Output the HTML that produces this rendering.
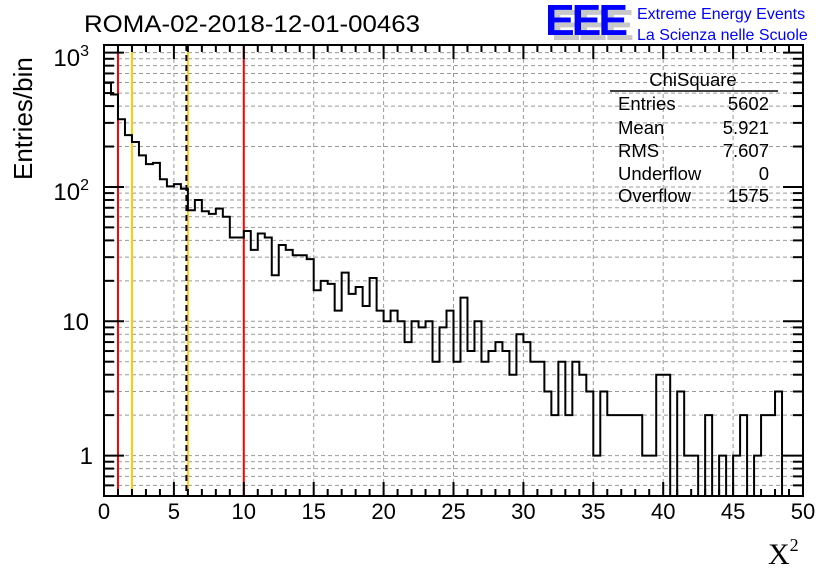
<!DOCTYPE html>
<html><head><meta charset="utf-8"><style>
html,body{margin:0;padding:0;background:#fff;}
svg{display:block;font-family:"Liberation Sans",sans-serif;}
</style></head><body>
<svg id="chart" width="836" height="572" viewBox="0 0 836 572">
<rect width="836" height="572" fill="#fff"/>
<g id="grid"></g>
<g id="vlines"></g>
<path id="hist" fill="none" stroke="#000" stroke-width="2"/>
<rect x="104" y="45" width="699" height="451" fill="none" stroke="#000" stroke-width="2"/>
<g id="ticks"></g>
<g id="xlabels" font-size="22" text-anchor="middle"></g>
<g font-size="24" text-anchor="end">
<text x="89" y="66">10<tspan font-size="16" dy="-10">3</tspan></text>
<text x="89" y="200">10<tspan font-size="16" dy="-10">2</tspan></text>
<text x="89" y="330">10</text>
<text x="93" y="464">1</text>
</g>
<text transform="translate(32,180) rotate(-90)" font-size="26">Entries/bin</text>
<text x="768" y="564" font-family="Liberation Serif,serif" font-size="30">X<tspan font-size="18" dy="-13">2</tspan></text>
<text x="84" y="32" font-size="24" textLength="336" lengthAdjust="spacingAndGlyphs">ROMA-02-2018-12-01-00463</text>
<g>
<text x="551" y="40" font-size="44" font-weight="bold" fill="#c8c8c8" letter-spacing="-3" textLength="80" lengthAdjust="spacingAndGlyphs">EEE</text>
<text x="545" y="35" font-size="44" font-weight="bold" fill="#0000ff" letter-spacing="-3" textLength="80" lengthAdjust="spacingAndGlyphs">EEE</text>
<text x="637" y="19" font-size="16" fill="#0000ff">Extreme Energy Events</text>
<text x="637" y="40" font-size="16" fill="#0000ff">La Scienza nelle Scuole</text>
</g>
<g font-size="18.5">
<text x="693" y="86" text-anchor="middle">ChiSquare</text>
<line x1="610" y1="91" x2="778" y2="91" stroke="#000" stroke-width="1.5"/>
<text x="618" y="110">Entries</text><text x="769" y="110" text-anchor="end">5602</text>
<text x="618" y="134">Mean</text><text x="769" y="134" text-anchor="end">5.921</text>
<text x="618" y="157">RMS</text><text x="769" y="157" text-anchor="end">7.607</text>
<text x="618" y="180">Underflow</text><text x="769" y="180" text-anchor="end">0</text>
<text x="618" y="202">Overflow</text><text x="769" y="202" text-anchor="end">1575</text>
</g>
</svg>
<script>
const binCounts = [595,488,319,243,216,172,148,151,114,101,105,97,67,80,66,63,69,60,42,42,
47,34,45,42,22,37,34,31,31,29,17,20,19,12,23,16,18,13,21,12,
10,12,10,7,10,9,10,5,9,12,5,15,6,10,5,6,7,6,4,8,
7,5,5,3,2,5,2,5,4,3,1,3,2,2,2,2,2,1,1,4,
4,0,3,1,1,0,2,0,1,0,1,2,0,1,2,2,3,0,0,0];
const binWidth = 0.5;
const xTickValues = [0,5,10,15,20,25,30,35,40,45,50];
const cutLines = [[1,'#ff0000',false],[2,'#ffcc00',false],[6,'#ffcc00',true],[10,'#ff0000',false]];
const X0=104,X1=803,Y0=45,Y1=496,XMIN=0,XMAX=50,YMIN=0.5,YMAX=1140;
function xs(v){return X0+(v-XMIN)/(XMAX-XMIN)*(X1-X0);}
function ys(v){if(v<=YMIN)return Y1;return Y1-(Math.log10(v)-Math.log10(YMIN))/(Math.log10(YMAX)-Math.log10(YMIN))*(Y1-Y0);}
const NS='http://www.w3.org/2000/svg';
function mk(tag,attrs,parent){const e=document.createElementNS(NS,tag);for(const k in attrs)e.setAttribute(k,attrs[k]);parent.appendChild(e);return e;}
const grid=document.getElementById('grid'),ticks=document.getElementById('ticks');
for(let v=5;v<50;v+=5){const l=mk('line',{x1:xs(v),x2:xs(v),y1:Y0,y2:Y1,stroke:'#999','stroke-dasharray':'4,3'},grid);

}
for(let d=-1;d<=3;d++)for(let m=1;m<10;m++){const v=m*Math.pow(10,d);if(v<=YMIN||v>=YMAX)continue;const y=ys(v);
const l=mk('line',{x1:X0,x2:X1,y1:y,y2:y,stroke:'#999','stroke-dasharray':'4,3'},grid);


const len=m===1?20:10;
const t1=mk('line',{x1:X0,x2:X0+len,y1:y,y2:y,stroke:'#000','stroke-width':2},ticks);


const t2=mk('line',{x1:X1,x2:X1-len,y1:y,y2:y,stroke:'#000','stroke-width':2},ticks);

}
for(let v=0;v<=50;v++){const x=xs(v);const len=v%5===0?14:7;
const t1=mk('line',{x1:x,x2:x,y1:Y1,y2:Y1-len,stroke:'#000','stroke-width':2},ticks);


const t2=mk('line',{x1:x,x2:x,y1:Y0,y2:Y0+len,stroke:'#000','stroke-width':2},ticks);

}
const xl=document.getElementById('xlabels');
xTickValues.forEach(v=>{const t=mk('text',{x:xs(v),y:519},xl);t.textContent=String(v);

});
const vl=document.getElementById('vlines');
cutLines.forEach(c=>{const x=xs(c[0]);
const l=mk('line',{x1:x,x2:x,y1:Y0,y2:Y1,stroke:c[1],'stroke-width':2},vl);


if(c[2]){const d=mk('line',{x1:x-1.5,x2:x-1.5,y1:Y0,y2:Y1,stroke:'#000','stroke-width':2,'stroke-dasharray':'6,4'},vl);

}});
let d='M'+xs(0)+','+ys(binCounts[0]);
binCounts.forEach((c,i)=>{const y=ys(c);d+=' L'+xs(i*binWidth)+','+y+' L'+xs((i+1)*binWidth)+','+y;});
document.getElementById('hist').setAttribute('d',d);
</script>
</body></html>
